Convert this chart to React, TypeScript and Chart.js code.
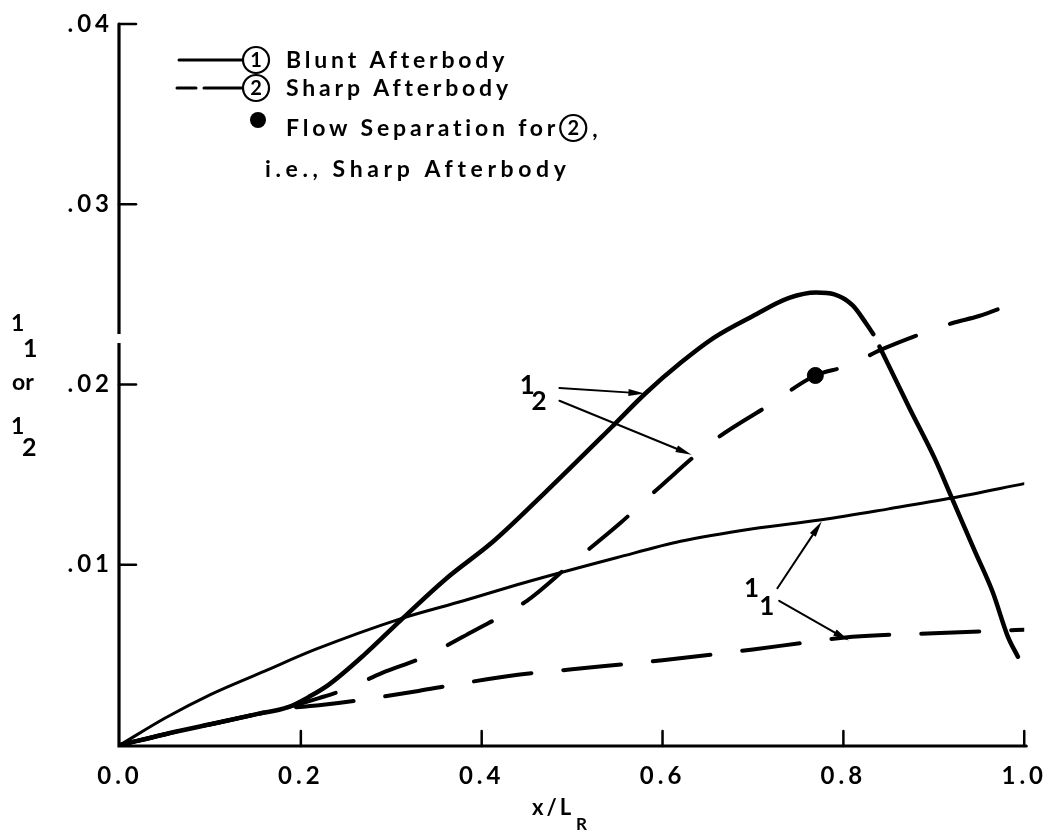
import React, { useEffect, useRef } from 'react';
import { Chart, registerables } from 'chart.js';

Chart.register(...registerables);

// ---- data ----
const bluntL1X = [0, 0.05, 0.1, 0.16, 0.216, 0.31, 0.38, 0.447, 0.55, 0.62, 0.7, 0.776, 0.85, 0.92, 1.0];
const bluntL1Y = [0, 0.0015, 0.0028, 0.0041, 0.0053, 0.0070, 0.0080, 0.0090, 0.0104, 0.0113, 0.0120, 0.0125, 0.0131, 0.0137, 0.0145];

const bluntL2X = [0, 0.05, 0.1, 0.15, 0.186, 0.21, 0.231, 0.27, 0.31, 0.36, 0.413, 0.47, 0.543, 0.581, 0.62, 0.657, 0.7, 0.74, 0.77, 0.79, 0.81, 0.825, 0.833, 0.836, 0.84, 0.873, 0.901, 0.92, 0.945, 0.965, 0.982, 0.993];
const bluntL2Y = [0, 0.0006, 0.00115, 0.0017, 0.0021, 0.0027, 0.00335, 0.0050, 0.0069, 0.0092, 0.0113, 0.0140, 0.0176, 0.0195, 0.0212, 0.0226, 0.0238, 0.0248, 0.0251, 0.0250, 0.0244, 0.0234, 0.0228, null, 0.0221, 0.0187, 0.0159, 0.0137, 0.0108, 0.0085, 0.0060, 0.0049];

const sharpL1X = [0, 0.05, 0.1, 0.15, 0.186, 0.22, 0.26, 0.33, 0.37, 0.44, 0.5, 0.6, 0.7, 0.76, 0.81, 0.9, 1.0];
const sharpL1Y = [0, 0.0006, 0.00115, 0.0017, 0.00205, 0.0022, 0.00245, 0.0030, 0.00335, 0.0039, 0.0042, 0.0047, 0.0053, 0.0057, 0.0060, 0.0062, 0.0064];

const sharpL2X = [0, 0.05, 0.1, 0.15, 0.186, 0.22, 0.25, 0.29, 0.337, 0.39, 0.45, 0.5, 0.553, 0.601, 0.657, 0.716, 0.769, 0.802, 0.845, 0.88, 0.92, 0.95, 0.983];
const sharpL2Y = [0, 0.0006, 0.00115, 0.0017, 0.0021, 0.0026, 0.0031, 0.0040, 0.0049, 0.0063, 0.0080, 0.0101, 0.0123, 0.0145, 0.0169, 0.0188, 0.0205, 0.0210, 0.0220, 0.0227, 0.0234, 0.0238, 0.0244];

const separationX = [0.769];
const separationY = [0.0205];

const xTickLabels = ['0.0', '0.2', '0.4', '0.6', '0.8', '1.0'];
const yTickLabels = ['', '.01', '.02', '.03', '.04'];
const legendLabels = ['Blunt Afterbody', 'Sharp Afterbody', 'Flow Separation for', 'i.e., Sharp Afterbody'];

const FONT = 'Lato, "Open Sans", sans-serif';

const zip = (xs: number[], ys: (number | null)[]) => xs.map((x, i) => ({ x, y: ys[i] }));

function drawArrow(ctx: CanvasRenderingContext2D, x1: number, y1: number, x2: number, y2: number) {
  const ang = Math.atan2(y2 - y1, x2 - x1);
  const len = 16;
  const half = 3.5;
  ctx.beginPath();
  ctx.moveTo(x1, y1);
  ctx.lineTo(x2 - Math.cos(ang) * (len - 2), y2 - Math.sin(ang) * (len - 2));
  ctx.lineWidth = 2;
  ctx.stroke();
  ctx.beginPath();
  ctx.moveTo(x2, y2);
  ctx.lineTo(x2 - Math.cos(ang) * len - Math.sin(ang) * half, y2 - Math.sin(ang) * len + Math.cos(ang) * half);
  ctx.lineTo(x2 - Math.cos(ang) * len + Math.sin(ang) * half, y2 - Math.sin(ang) * len - Math.cos(ang) * half);
  ctx.closePath();
  ctx.fill();
}

function circled(ctx: CanvasRenderingContext2D, n: string, cx: number, cy: number) {
  ctx.save();
  (ctx as any).letterSpacing = '0px';
  ctx.beginPath();
  ctx.arc(cx, cy, 13, 0, Math.PI * 2);
  ctx.lineWidth = 2.2;
  ctx.stroke();
  ctx.font = `bold 20px ${FONT}`;
  ctx.textAlign = 'center';
  ctx.textBaseline = 'middle';
  ctx.fillText(n, cx, cy + 1);
  ctx.restore();
}

function spaced(ctx: CanvasRenderingContext2D, s: string, x: number, y: number, ls: number) {
  (ctx as any).letterSpacing = `${ls}px`;
  ctx.fillText(s, x, y);
  const w = ctx.measureText(s).width;
  (ctx as any).letterSpacing = '0px';
  return w;
}

const decorPlugin = {
  id: 'decor',
  beforeDraw(chart: any) {
    chart.ctx.letterSpacing = '4px';
  },
  beforeDatasetsDraw(chart: any) {
    chart.ctx.letterSpacing = '0px';
  },
  afterDraw(chart: any) {
    const ctx: CanvasRenderingContext2D = chart.ctx;
    const xs = chart.scales.x;
    const ys = chart.scales.y;
    const X = (v: number) => xs.getPixelForValue(v);
    const Y = (v: number) => ys.getPixelForValue(v);
    ctx.save();
    (ctx as any).letterSpacing = '0px';
    ctx.strokeStyle = '#000';
    ctx.fillStyle = '#000';
    ctx.lineCap = 'round';

    // axes
    const x0 = X(0) - 1;
    const y0 = Y(0) + 1;
    ctx.lineWidth = 3.2;
    ctx.beginPath();
    ctx.moveTo(x0, Y(0.04));
    ctx.lineTo(x0, y0);
    ctx.lineTo(X(1) + 2, y0);
    ctx.stroke();
    // small break in the vertical axis
    ctx.fillStyle = '#fff';
    ctx.fillRect(x0 - 4, Y(0.0228), 8, Y(0.0223) - Y(0.0228));
    ctx.fillStyle = '#000';

    // inward ticks
    ctx.lineWidth = 2.5;
    [0.01, 0.02, 0.03, 0.04].forEach((v) => {
      ctx.beginPath();
      ctx.moveTo(x0, Y(v));
      ctx.lineTo(x0 + 17, Y(v));
      ctx.stroke();
    });
    [0.2, 0.4, 0.6, 0.8, 1.0].forEach((v) => {
      ctx.beginPath();
      ctx.moveTo(X(v), y0);
      ctx.lineTo(X(v), y0 - 15);
      ctx.stroke();
    });

    // x-axis title  x/L_R
    ctx.textAlign = 'left';
    ctx.textBaseline = 'alphabetic';
    ctx.font = `bold 22px ${FONT}`;
    spaced(ctx, 'x/L', 532, 815, 3);
    ctx.font = `bold 17px ${FONT}`;
    ctx.fillText('R', 576, 830);

    // y-axis title  1_1 or 1_2
    ctx.font = `bold 23px ${FONT}`;
    ctx.fillText('1', 11, 331);
    ctx.font = `bold 25px ${FONT}`;
    ctx.fillText('1', 23, 357);
    ctx.font = `bold 23px ${FONT}`;
    ctx.fillText('or', 12, 390);
    ctx.fillText('1', 11, 434);
    ctx.font = `bold 25px ${FONT}`;
    ctx.fillText('2', 22, 456);

    // legend
    ctx.lineWidth = 3;
    ctx.beginPath();
    ctx.moveTo(179, 60);
    ctx.lineTo(242, 60);
    ctx.stroke();
    ctx.beginPath();
    ctx.moveTo(177, 88);
    ctx.lineTo(196, 88);
    ctx.moveTo(204, 88);
    ctx.lineTo(242, 88);
    ctx.stroke();
    circled(ctx, '1', 256, 60);
    circled(ctx, '2', 256, 88);
    ctx.beginPath();
    ctx.arc(258, 120, 8, 0, Math.PI * 2);
    ctx.fill();
    ctx.font = `bold 23px ${FONT}`;
    ctx.textAlign = 'left';
    ctx.textBaseline = 'middle';
    spaced(ctx, legendLabels[0], 286, 61, 3.8);
    spaced(ctx, legendLabels[1], 286, 89, 3.8);
    const fw = spaced(ctx, legendLabels[2], 286, 129, 3.8);
    circled(ctx, '2', 286 + fw + 14, 128);
    ctx.font = `bold 23px ${FONT}`;
    ctx.textAlign = 'left';
    ctx.textBaseline = 'middle';
    ctx.fillText(',', 286 + fw + 33, 130);
    spaced(ctx, legendLabels[3], 265, 170, 4.6);

    // annotations 1_2
    ctx.textBaseline = 'alphabetic';
    ctx.font = `bold 26px ${FONT}`;
    ctx.fillText('1', X(0.442), Y(0.0195));
    ctx.fillText('2', X(0.455), Y(0.0186));
    drawArrow(ctx, X(0.486), Y(0.0198), X(0.58), Y(0.0195));
    drawArrow(ctx, X(0.486), Y(0.0191), X(0.632), Y(0.0161));
    // annotations 1_1
    ctx.fillText('1', X(0.69), Y(0.0082));
    ctx.fillText('1', X(0.707), Y(0.0072));
    drawArrow(ctx, X(0.727), Y(0.0087), X(0.776), Y(0.0124));
    drawArrow(ctx, X(0.729), Y(0.0080), X(0.806), Y(0.0058));

    ctx.restore();
  },
};

export default function App() {
  const ref = useRef<HTMLCanvasElement>(null);
  useEffect(() => {
    if (!ref.current) return;
    const common = {
      borderColor: '#000',
      backgroundColor: '#000',
      pointRadius: 0,
      fill: false,
      cubicInterpolationMode: 'monotone' as const,
      borderCapStyle: 'round' as const,
      borderJoinStyle: 'round' as const,
      spanGaps: false,
    };
    const chart = new Chart(ref.current, {
      type: 'line',
      data: {
        datasets: [
          { ...common, label: 'l1 blunt', data: zip(bluntL1X, bluntL1Y), borderWidth: 3 },
          { ...common, label: 'l2 blunt', data: zip(bluntL2X, bluntL2Y), borderWidth: 4.5 },
          { ...common, label: 'l1 sharp', data: zip(sharpL1X, sharpL1Y), borderWidth: 4, borderDash: [58, 32] },
          { ...common, label: 'l2 sharp', data: zip(sharpL2X, sharpL2Y), borderWidth: 4, borderDash: [50, 36] },
          {
            type: 'scatter' as const,
            label: 'flow separation',
            data: zip(separationX, separationY),
            pointRadius: 8,
            pointBackgroundColor: '#000',
            pointBorderColor: '#000',
            showLine: false,
          } as any,
        ],
      },
      options: {
        animation: false,
        responsive: false,
        maintainAspectRatio: false,
        layout: { padding: { top: 24, right: 28, left: 0, bottom: 0 } },
        plugins: { legend: { display: false }, tooltip: { enabled: false } },
        scales: {
          x: {
            type: 'linear',
            min: 0,
            max: 1,
            afterFit: (s: any) => { s.height = 87; },
            grid: { display: false, drawTicks: false },
            border: { display: false },
            ticks: {
              stepSize: 0.2,
              padding: 17,
              color: '#000',
              maxRotation: 0,
              font: { family: FONT, size: 24, weight: 'bold' },
              callback: (_v: any, i: number) => xTickLabels[i],
            },
          },
          y: {
            type: 'linear',
            min: 0,
            max: 0.04,
            afterFit: (s: any) => { s.width = 120; },
            grid: { display: false, drawTicks: false },
            border: { display: false },
            ticks: {
              stepSize: 0.01,
              padding: 7,
              color: '#000',
              font: { family: FONT, size: 24, weight: 'bold' },
              callback: (_v: any, i: number) => yTickLabels[i],
            },
          },
        },
      } as any,
      plugins: [decorPlugin],
    });
    return () => chart.destroy();
  }, []);
  return (
    <div style={{ position: 'fixed', left: 0, top: 0, width: 1058, height: 832, background: '#fff' }}>
      <canvas ref={ref} width={1058} height={832} style={{ width: 1058, height: 832 }} />
    </div>
  );
}
